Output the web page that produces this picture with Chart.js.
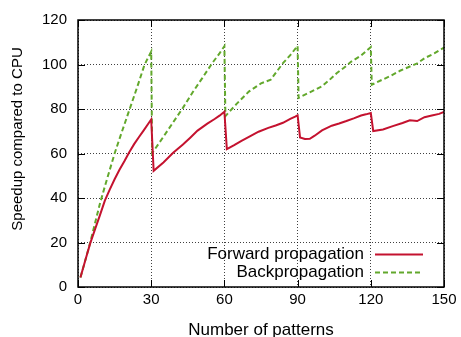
<!DOCTYPE html>
<html>
<head>
<meta charset="utf-8">
<script src="https://cdn.jsdelivr.net/npm/chart.js@4.4.0/dist/chart.umd.min.js"></script>
<style>
    body { margin: 0; background: #fff; }
    #wrap { width: 461px; height: 337px; }
</style>
</head>
<body>
<div id="wrap"><canvas id="speedup" width="461" height="337"></canvas></div>
<script>
// values
const fwdX = [1, 3, 5, 7, 9, 11, 13, 15, 17, 19, 21, 23, 25, 27, 29, 30,
    31, 35, 39, 43, 46, 49, 53, 56, 58, 60,
    61, 64, 67, 71, 74, 78, 81, 84, 87, 89, 90,
    91, 93, 95, 97, 100, 104, 107, 110, 113, 116, 118, 120,
    121, 125, 129, 133, 136, 139, 142, 145, 148, 150];
const fwdY = [4.3, 12, 19.6, 26, 32.3, 38.8, 43.8, 48.4, 52.7, 56.5, 60.6, 64.2, 67.4, 70.5, 73.7, 75.3,
    52.2, 56, 60.3, 64, 67.1, 70.3, 73.4, 75.5, 77, 78.8,
    62, 63.8, 65.7, 68, 69.8, 71.5, 72.6, 73.8, 75.6, 76.6, 77.2,
    67.2, 66.5, 66.6, 68, 70.4, 72.5, 73.5, 74.6, 75.8, 77.1, 77.6, 78.2,
    70.1, 70.8, 72.3, 73.7, 74.9, 74.6, 76.3, 77.1, 77.8, 78.7];

const backX = [1, 3, 5, 7, 9, 11, 13, 15, 17, 19, 21, 23, 25, 27, 28, 30,
    30.4, 35, 39, 43, 47, 51, 55, 58, 60,
    60.4, 65, 70, 75, 79, 84, 87, 90,
    90.4, 95, 100, 103, 106, 109, 112, 116, 120,
    120.4, 124, 128, 132, 136, 139, 142, 146, 150];
const backY = [4.3, 12, 20, 28.8, 37.5, 45.2, 52.6, 60, 66.6, 73, 79.4, 85.8, 92.3, 99, 101.5, 105.8,
    60.2, 67.5, 74, 80.5, 87.5, 94, 100.6, 105, 108.2,
    76.8, 82.3, 87.8, 91.5, 93.2, 100.6, 104.2, 108.4,
    85, 87.5, 90.2, 93, 96.1, 98.5, 101.3, 104, 107.8,
    90.9, 92.8, 94.8, 97.2, 99.1, 100.5, 102.8, 105, 107.6];

const xTicks = [0, 30, 60, 90, 120, 150];
const yTicks = [0, 20, 40, 60, 80, 100, 120];

const FONT = 'Liberation Sans, Arial, Helvetica, sans-serif';

const toPoints = (xs, ys) => xs.map((x, i) => ({ x: x, y: ys[i] }));

// gnuplot style border with inward ticks, key and axis labels
const gnuplotBits = {
    id: 'gnuplotBits',
    afterDraw(chart) {
        const ctx = chart.ctx;
        const a = chart.chartArea;
        const xs = chart.scales.x, ys = chart.scales.y;
        const tl = 7;
        ctx.save();
        ctx.strokeStyle = '#000';
        ctx.lineWidth = 1.5;
        ctx.setLineDash([]);
        ctx.strokeRect(a.left, a.top, a.right - a.left, a.bottom - a.top);
        ctx.lineWidth = 1;
        ctx.beginPath();
        xTicks.forEach(v => {
            const px = Math.round(xs.getPixelForValue(v)) + 0.5;
            ctx.moveTo(px, a.bottom); ctx.lineTo(px, a.bottom - tl);
            ctx.moveTo(px, a.top); ctx.lineTo(px, a.top + tl);
        });
        yTicks.forEach(v => {
            const py = Math.round(ys.getPixelForValue(v)) + 0.5;
            ctx.moveTo(a.left, py); ctx.lineTo(a.left + tl, py);
            ctx.moveTo(a.right, py); ctx.lineTo(a.right - tl, py);
        });
        ctx.stroke();

        // x axis label
        ctx.fillStyle = '#000';
        ctx.font = '17px ' + FONT;
        ctx.textAlign = 'center';
        ctx.textBaseline = 'alphabetic';
        ctx.fillText('Number of patterns', (a.left + a.right) / 2, 335);

        // y axis label
        ctx.font = '15px ' + FONT;
        ctx.textBaseline = 'middle';
        ctx.translate(18, 139);
        ctx.rotate(-Math.PI / 2);
        ctx.fillText('Speedup compared to CPU', 0, 0);
        ctx.restore();

        // key
        ctx.save();
        ctx.font = '17px ' + FONT;
        ctx.textAlign = 'right';
        ctx.textBaseline = 'middle';
        chart.data.datasets.forEach((ds, i) => {
            const y = 254 + i * 18;
            ctx.fillStyle = '#000';
            ctx.fillText(ds.label, 364, y);
            ctx.strokeStyle = ds.borderColor;
            ctx.lineWidth = ds.borderWidth;
            ctx.setLineDash(ds.borderDash || []);
            ctx.beginPath();
            ctx.moveTo(375, y + 0.5);
            ctx.lineTo(423, y + 0.5);
            ctx.stroke();
        });
        ctx.restore();
    }
};

new Chart(document.getElementById('speedup').getContext('2d'), {
    type: 'line',
    data: {
        datasets: [{
            label: 'Forward propagation',
            data: toPoints(fwdX, fwdY),
            borderColor: '#c4122f',
            borderWidth: 2,
            pointRadius: 0,
            tension: 0
        }, {
            label: 'Backpropagation',
            data: toPoints(backX, backY),
            borderColor: '#62a82c',
            borderWidth: 2,
            borderDash: [5, 3],
            pointRadius: 0,
            tension: 0
        }]
    },
    options: {
        responsive: false,
        animation: false,
        devicePixelRatio: 1,
        layout: { padding: { top: 18, right: 17, left: 0, bottom: 0 } },
        plugins: {
            legend: { display: false },
            tooltip: { enabled: false }
        },
        scales: {
            x: {
                type: 'linear',
                min: 0,
                max: 150,
                afterBuildTicks: s => { s.ticks = xTicks.map(v => ({ value: v })); },
                afterFit: s => { s.height = 50; },
                grid: { color: 'rgba(0,0,0,0.75)', lineWidth: 1, drawTicks: false },
                border: { display: false, dash: [1, 2] },
                ticks: { color: '#000', font: { family: FONT, size: 15 }, padding: 4, maxRotation: 0 }
            },
            y: {
                min: 0,
                max: 120,
                afterBuildTicks: s => { s.ticks = yTicks.map(v => ({ value: v })); },
                afterFit: s => { s.width = 78; },
                grid: { color: 'rgba(0,0,0,0.75)', lineWidth: 1, drawTicks: false },
                border: { display: false, dash: [1, 2] },
                ticks: { color: '#000', font: { family: FONT, size: 15 }, padding: 11 }
            }
        }
    },
    plugins: [gnuplotBits]
});
</script>
</body>
</html>
